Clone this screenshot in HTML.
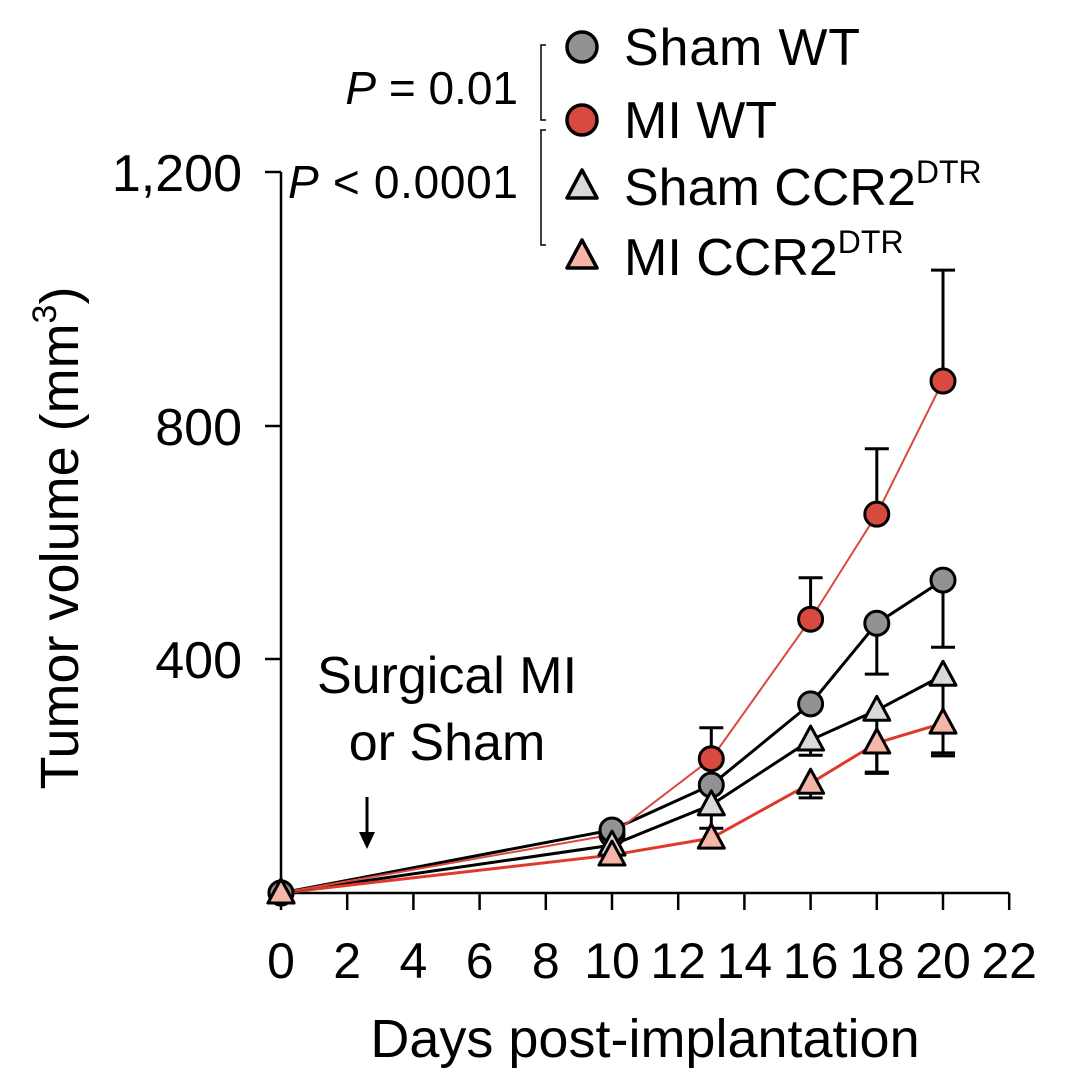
<!DOCTYPE html>
<html><head><meta charset="utf-8"><style>
body{margin:0;background:#fff}
svg{display:block;font-family:"Liberation Sans",Arial,sans-serif}
</style></head><body>
<svg id="chart" width="1080" height="1088" viewBox="0 0 1080 1088">
<g id="axes"></g><g id="series"></g>
<g font-size="52">
 <circle cx="582" cy="47" r="15" fill="#929292" stroke="#000" stroke-width="3.5"/>
 <text x="624" y="65" textLength="236">Sham WT</text>
 <circle cx="582" cy="120" r="15" fill="#d84a40" stroke="#000" stroke-width="3.5"/>
 <text x="624" y="138">MI WT</text>
 <polygon points="582,170 567,198 597,198" fill="#d9d9d9" stroke="#000" stroke-width="3.5" stroke-linejoin="round"/>
 <text x="624" y="205">Sham CCR2<tspan font-size="32" dy="-22">DTR</tspan></text>
 <polygon points="582,240 567,268 597,268" fill="#f5b5a8" stroke="#000" stroke-width="3.5" stroke-linejoin="round"/>
 <text x="624" y="275">MI CCR2<tspan font-size="32" dy="-22">DTR</tspan></text>
 <path d="M546,45 H541 V120 H546" fill="none" stroke="#000" stroke-width="1.5"/>
 <path d="M546,130 H541 V245 H546" fill="none" stroke="#000" stroke-width="1.5"/>
 <text x="518" y="104" font-size="46" text-anchor="end"><tspan font-style="italic">P</tspan> = 0.01</text>
 <text x="518" y="198" font-size="46" text-anchor="end" textLength="230"><tspan font-style="italic">P</tspan> &lt; 0.0001</text>
</g>
<g font-size="52" text-anchor="middle">
 <text x="447" y="693">Surgical MI</text>
 <text x="447" y="760">or Sham</text>
 <line x1="367" y1="797" x2="367" y2="838" stroke="#000" stroke-width="3"/>
 <polygon points="359,832 375,832 367,849" fill="#000"/>
</g>
<text x="645" y="1057" font-size="54" text-anchor="middle">Days post-implantation</text>
<text transform="translate(78,538) rotate(-90)" font-size="54" text-anchor="middle">Tumor volume (mm<tspan font-size="34" dy="-22">3</tspan><tspan dy="22">)</tspan></text>
</svg>
<script>
const days=[0,10,13,16,18,20];
const xTicks=[0,2,4,6,8,10,12,14,16,18,20,22];
const yTickValues=[0,400,800,1200];
const yTickLabels=["","400","800","1,200"];
const shamWT=[0,108,185,324,462,536];
const shamWTErr=[0,0,0,0,-87,-115];
const miWT=[0,100,230,469,649,877];
const miWTErr=[0,0,53,71,112,190];
const shamCCR2=[0,82,151,262,313,373];
const shamCCR2Err=[0,0,-40,-26,-106,-133];
const miCCR2=[0,65,94,188,257,291];
const miCCR2Err=[0,0,0,-25,-52,-56];
const NS='http://www.w3.org/2000/svg';
const X=d=>281+d*33.1;
const Y=v=>893-v*233.5/400;
function mk(tag,attrs,parent){const e=document.createElementNS(NS,tag);for(const k in attrs)e.setAttribute(k,attrs[k]);parent.appendChild(e);return e;}
const ax=document.getElementById('axes');
let l=mk('line',{x1:281,y1:172,x2:281,y2:893,stroke:'#000','stroke-width':2.5},ax);


l=mk('line',{x1:281,y1:893,x2:X(22),y2:893,stroke:'#000','stroke-width':2.5},ax);


const yPix={0:893,400:659,800:426,1200:172};
yTickValues.forEach((v,i)=>{if(!yTickLabels[i])return;const y=yPix[v]!==undefined?yPix[v]:Y(v);
 const t=mk('line',{x1:265,y1:y,x2:281,y2:y,stroke:'#000','stroke-width':2.5},ax);
 
 
 const tx=mk('text',{x:242,y:y+19,'font-size':52,'text-anchor':'end'},ax);tx.textContent=yTickLabels[i];
 
 });
xTicks.forEach(d=>{const x=X(d);
 const t=mk('line',{x1:x,y1:893,x2:x,y2:910,stroke:'#000','stroke-width':2.5},ax);
 
 
 const tx=mk('text',{x:x,y:978,'font-size':50,'text-anchor':'middle'},ax);tx.textContent=d;
 
 });
const sg=document.getElementById('series');
const series=[
 {name:'sham-ccr2',vals:shamCCR2,err:shamCCR2Err,fill:'#d9d9d9',line:'#000',lw:3,shape:'tri'},
 {name:'mi-ccr2',vals:miCCR2,err:miCCR2Err,fill:'#f5b5a8',line:'#e0392c',lw:3,shape:'tri'},
 {name:'sham-wt',vals:shamWT,err:shamWTErr,fill:'#929292',line:'#000',lw:3,shape:'circ'},
 {name:'mi-wt',vals:miWT,err:miWTErr,fill:'#d84a40',line:'#d84a40',lw:2,shape:'circ'}];
series.forEach(s=>{const g=mk('g',{},sg);
 
 
 s.vals.forEach((v,i)=>{if(!s.err[i])return;const x=X(days[i]),y1=Y(v),y2=Y(v+s.err[i]);
  const e=mk('path',{d:`M${x},${y1} V${y2} M${x-12},${y2} H${x+12}`,stroke:'#000','stroke-width':3,fill:'none'},g);
  
  });
 const p=mk('polyline',{points:s.vals.map((v,i)=>X(days[i])+','+Y(v)).join(' '),fill:'none',stroke:s.line,'stroke-width':s.lw},g);
 
 });
const drawOrder=[3,2,0,1];
drawOrder.forEach(k=>{const s=series[k];s.vals.forEach((v,i)=>{const x=X(days[i]),y=Y(v);let m;
 if(s.shape==='circ')m=mk('circle',{cx:x,cy:y,r:12,fill:s.fill,stroke:'#000','stroke-width':3},sg);
 else m=mk('polygon',{points:`${x},${y-14} ${x-13},${y+10} ${x+13},${y+10}`,fill:s.fill,stroke:'#000','stroke-width':3,'stroke-linejoin':'round'},sg);
 
 });});
</script>
</body></html>
